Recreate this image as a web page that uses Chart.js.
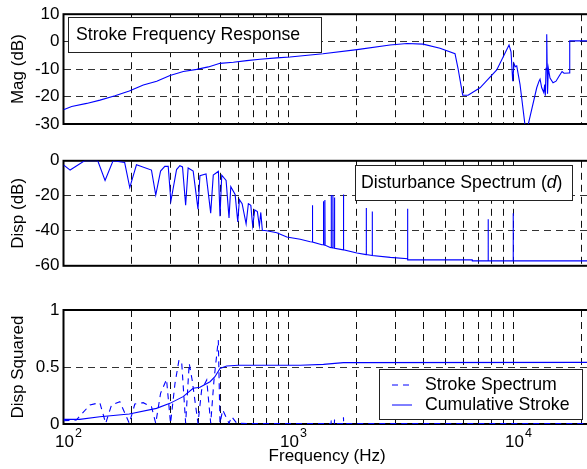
<!DOCTYPE html>
<html>
<head>
<meta charset="utf-8">
<script src="https://cdn.jsdelivr.net/npm/chart.js@4.4.0/dist/chart.umd.min.js"></script>
<style>
  html, body { margin: 0; padding: 0; background: #fff; }
  #fig { position: relative; width: 587px; height: 469px; overflow: hidden; background: #fff; }
  #fig canvas { position: absolute; left: 0; }
</style>
</head>
<body>
<div id="fig">
  <canvas id="magChart" width="600" height="140" style="top:0px"></canvas>
  <canvas id="dispChart" width="600" height="140" style="top:140px"></canvas>
  <canvas id="strokeChart" width="600" height="189" style="top:280px"></canvas>
</div>
<script>
// Stroke frequency response (dB)
const magFreq = [100, 108.7, 126.8, 145.3, 169.4, 196.1, 226.3, 259.6, 297.4, 340.8, 390.8, 440.2, 496.2, 568.5, 652.3, 747, 886.3, 1015, 1125, 1423, 2016, 2826, 3363, 3961, 4713, 5495, 5666, 5945, 6280, 7099, 8420, 9550, 9747, 9918, 10051, 10186, 10333, 10689, 11249, 11598, 12680, 12983, 13118, 13346, 13622, 13763, 13846, 13945, 14046, 14160, 14278, 14527, 14981, 15447, 15929, 16429, 16767, 17648, 17775, 22050];
const magDb = [-24.8, -23.6, -22.5, -21.3, -19.7, -18.0, -15.8, -14.4, -12.3, -10.9, -10.1, -9.2, -7.9, -7.5, -6.9, -6.4, -5.9, -5.6, -5.2, -4.4, -2.9, -1.2, -0.7, -0.9, -2.4, -4.4, -9.7, -19.5, -19.5, -16.8, -10.3, -1.2, -3.7, -14.4, -8, -9.1, -8.8, -15.6, -30.5, -30.5, -16.8, -14.4, -13.7, -16.8, -18.5, -15.6, -19.7, -9.7, 2.7, -19, -9.7, -13.3, -15, -14.4, -12.6, -10.9, -11.5, -11.4, 0.3, 0.3];

// Disturbance spectrum (dB)
const distFreq = [100, 107, 124, 142, 153, 166, 187, 197, 211, 246, 257, 270, 282, 292, 300, 318, 329, 338, 349, 358, 377, 396, 404, 421, 430, 451, 463, 480, 488, 496, 505, 528, 544, 554, 579, 595, 605, 622, 648, 663, 680, 693, 708, 727, 742, 753, 765, 800, 887, 983, 1127, 1248,
  1275, 1277, 1280, 1407, 1428, 1430, 1433, 1449, 1451, 1454, 1532, 1546, 1548, 1551, 1573, 1575, 1578, 1599, 1601, 1604, 1753, 1755, 1758, 2014,
  2214, 2216, 2219, 2354, 2356, 2359, 2835, 3380, 3383, 3387, 6549, 6560, 7710, 7716, 7722, 9960, 9968, 9976, 22050];
const distDb = [-2.3, -5.3, 0, 0, -11.2, 0, -1, -15.3, -2.3, -5.3, -19.6, -5.9, -3.2, -3.2, -23.1, -5, -2.8, -3.5, -25.4, -4.1, -5.9, -27.6, -8.5, -7.8, -7.5, -29.9, -8.2, -6.7, -6, -31.7, -8.2, -11.2, -32.6, -14.8, -19.2, -34.9, -22.2, -24.5, -36.1, -24.5, -25.5, -37.4, -28.1, -29, -37.4, -29.5, -39.7, -40, -41.1, -43.5, -44.8, -46.3,
  -46.4, -25.4, -46.4, -48, -48, -23.1, -48, -48.2, -22.4, -48.2, -49.5, -49.6, -19.6, -49.6, -49.8, -19.6, -49.8, -50, -21, -50, -50.9, -19.2, -50.9, -52.7,
  -53.6, -26.9, -53.6, -54.1, -29, -54.1, -55.2, -56, -27.4, -56.6, -56.6, -57.2, -57.2, -33.4, -57.2, -57.2, -29.9, -57.2, -57.2];

// Stroke spectrum (dashed) and cumulative stroke (solid)
const strokeFreq = [100, 114, 131, 145, 154, 163.5, 178, 196, 207.5, 226, 246, 257, 270, 287, 299, 313, 326, 335, 349, 362, 373, 396, 411, 433, 451, 466.5, 487.5, 496, 510, 544, 559, 589, 700, 800, 1000, 1546, 1548, 1551, 1599, 1601, 1604, 1753, 1755, 1758, 22050];
const strokeSpec = [0.029, 0.035, 0.167, 0.187, 0.006, 0.167, 0.196, 0.006, 0.175, 0.187, 0.152, 0.006, 0.269, 0.392, 0.006, 0.357, 0.561, 0.547, 0.006, 0.532, 0.386, 0.006, 0.298, 0.386, 0.006, 0.386, 0.737, 0.006, 0.123, 0.006, 0.064, 0.006, 0.004, 0.003, 0.003, 0.003, 0.03, 0.003, 0.003, 0.04, 0.003, 0.003, 0.06, 0.003, 0.003];
const cumFreq = [100, 118, 145, 196, 259, 297, 340, 377, 404, 448, 471, 496, 531, 598, 1127, 1430, 1755, 22050];
const cumStroke = [0.041, 0.041, 0.064, 0.088, 0.137, 0.181, 0.240, 0.313, 0.322, 0.371, 0.415, 0.488, 0.509, 0.515, 0.515, 0.523, 0.538, 0.541];

// Ticks
const xGridValues = [100, 200, 300, 400, 500, 600, 700, 800, 900, 1000, 2000, 3000, 4000, 5000, 6000, 7000, 8000, 9000, 10000, 20000];
const xMajor = [100, 1000, 10000];
const xMajorExp = ['2', '3', '4'];
const magTicks = [-30, -20, -10, 0, 10];
const distTicks = [-60, -40, -20, 0];
const strokeTicks = [0, 0.5, 1];

const FONT = "'Liberation Sans', Arial, sans-serif";
const BLUE = 'rgb(0,0,255)';

function pts(xs, ys) {
    return xs.map((x, i) => ({ x: x, y: ys[i] }));
}

// Box around plot area
const framePlugin = {
    id: 'frame',
    beforeDatasetsDraw(chart) {
        const a = chart.chartArea;
        const ctx = chart.ctx;
        ctx.save();
        ctx.strokeStyle = '#000';
        ctx.lineWidth = 2;
        ctx.strokeRect(a.left, a.top, a.right - a.left, a.bottom - a.top);
        ctx.restore();
    }
};

// Text boxes / legend inside the axes
const boxPlugin = {
    id: 'textBox',
    afterDraw(chart, args, opts) {
        if (!opts || !opts.w) return;
        const ctx = chart.ctx;
        ctx.save();
        ctx.fillStyle = '#fff';
        ctx.fillRect(opts.x, opts.y, opts.w, opts.h);
        ctx.strokeStyle = '#222';
        ctx.lineWidth = 1;
        ctx.strokeRect(opts.x + 0.5, opts.y + 0.5, opts.w, opts.h);
        ctx.fillStyle = '#000';
        ctx.textBaseline = 'middle';
        ctx.textAlign = 'left';
        opts.items.forEach(item => {
            let x = item.x;
            if (item.sample !== undefined) {
                const ds = chart.data.datasets[item.sample];
                ctx.strokeStyle = ds.borderColor;
                ctx.lineWidth = 1;
                ctx.setLineDash(ds.borderDash || []);
                ctx.beginPath();
                ctx.moveTo(item.lx0, item.y);
                ctx.lineTo(item.lx1, item.y);
                ctx.stroke();
                ctx.setLineDash([]);
            }
            item.parts.forEach(p => {
                ctx.font = (p.italic ? 'italic ' : '') + '17.7px ' + FONT;
                ctx.fillText(p.t, x, item.y);
                x += ctx.measureText(p.t).width;
            });
        });
        ctx.restore();
    }
};

// 10^n labels under the bottom axis
const expLabels = {
    id: 'expLabels',
    afterDraw(chart, args, opts) {
        if (!opts || !opts.show) return;
        const ctx = chart.ctx;
        const xs = chart.scales.x;
        ctx.save();
        ctx.fillStyle = '#000';
        ctx.textBaseline = 'middle';
        xMajor.forEach((v, i) => {
            const px = xs.getPixelForValue(v) + 1;
            ctx.font = '17px ' + FONT;
            ctx.textAlign = 'center';
            ctx.fillText('10', px, opts.y);
            const w = ctx.measureText('10').width;
            ctx.font = '12.5px ' + FONT;
            ctx.textAlign = 'left';
            ctx.fillText(xMajorExp[i], px + w / 2 + 1, opts.y - 8);
        });
        ctx.restore();
    }
};

function makeChart(id, cfg) {
    return new Chart(document.getElementById(id), {
        type: 'line',
        data: { datasets: cfg.datasets },
        options: {
            responsive: false,
            animation: false,
            devicePixelRatio: 1,
            layout: { padding: { top: cfg.padTop, right: 9.2, left: 0, bottom: 0 } },
            elements: { point: { radius: 0 }, line: { borderWidth: 1.1, tension: 0 } },
            plugins: {
                legend: { display: false },
                tooltip: { enabled: false },
                textBox: cfg.box || {},
                expLabels: cfg.exp || {}
            },
            scales: {
                x: {
                    type: 'logarithmic',
                    min: 100,
                    max: 22050,
                    afterBuildTicks: s => { s.ticks = xGridValues.map(v => ({ value: v })); },
                    afterFit: s => { s.height = cfg.xHeight; },
                    ticks: { display: false },
                    grid: { color: '#111', lineWidth: 1, drawTicks: false },
                    border: { display: false, dash: [7, 5] },
                    title: {
                        display: !!cfg.xTitle,
                        text: cfg.xTitle || '',
                        color: '#000',
                        font: { family: FONT, size: 17 },
                        padding: { top: 0, bottom: 2.3 }
                    }
                },
                y: {
                    min: cfg.yTicks[0],
                    max: cfg.yTicks[cfg.yTicks.length - 1],
                    afterBuildTicks: s => { s.ticks = cfg.yTicks.map(v => ({ value: v })); },
                    afterFit: s => { s.width = 63.5; },
                    ticks: {
                        color: '#000',
                        font: { family: FONT, size: 17 },
                        padding: 4,
                        callback: v => String(v)
                    },
                    grid: { color: '#333', lineWidth: 1, drawTicks: false },
                    border: { display: false, dash: [7, 5] },
                    title: {
                        display: true,
                        text: cfg.yTitle,
                        color: '#000',
                        font: { family: FONT, size: 17 },
                        padding: { top: 8, bottom: 0 }
                    }
                }
            }
        },
        plugins: [framePlugin, boxPlugin, expLabels]
    });
}

document.addEventListener('DOMContentLoaded', function() {
    makeChart('magChart', {
        padTop: 11,
        xHeight: 16,
        yTicks: magTicks,
        yTitle: 'Mag (dB)',
        datasets: [{ data: pts(magFreq, magDb), borderColor: BLUE }],
        box: {
            x: 68, y: 17, w: 253, h: 35,
            items: [{ x: 76, y: 35, parts: [{ t: 'Stroke Frequency Response' }] }]
        }
    });

    makeChart('dispChart', {
        padTop: 20.8,
        xHeight: 6.7,
        yTicks: distTicks,
        yTitle: 'Disp (dB)',
        datasets: [{ data: pts(distFreq, distDb), borderColor: BLUE }],
        box: {
            x: 355, y: 25, w: 217, h: 35,
            items: [{ x: 361, y: 43, parts: [{ t: 'Disturbance Spectrum (' }, { t: 'd', italic: true }, { t: ')' }] }]
        }
    });

    makeChart('strokeChart', {
        padTop: 30,
        xHeight: 45,
        yTicks: strokeTicks,
        yTitle: 'Disp Squared',
        xTitle: 'Frequency (Hz)',
        datasets: [
            { label: 'Stroke Spectrum', data: pts(strokeFreq, strokeSpec), borderColor: BLUE, borderDash: [6, 5] },
            { label: 'Cumulative Stroke', data: pts(cumFreq, cumStroke), borderColor: BLUE }
        ],
        box: {
            x: 379, y: 89, w: 203, h: 50,
            items: [
                { x: 425, y: 105, sample: 0, lx0: 392, lx1: 412, parts: [{ t: 'Stroke Spectrum' }] },
                { x: 425, y: 125, sample: 1, lx0: 392, lx1: 412, parts: [{ t: 'Cumulative Stroke' }] }
            ]
        },
        exp: { show: true, y: 162 }
    });
});
</script>
</body>
</html>
